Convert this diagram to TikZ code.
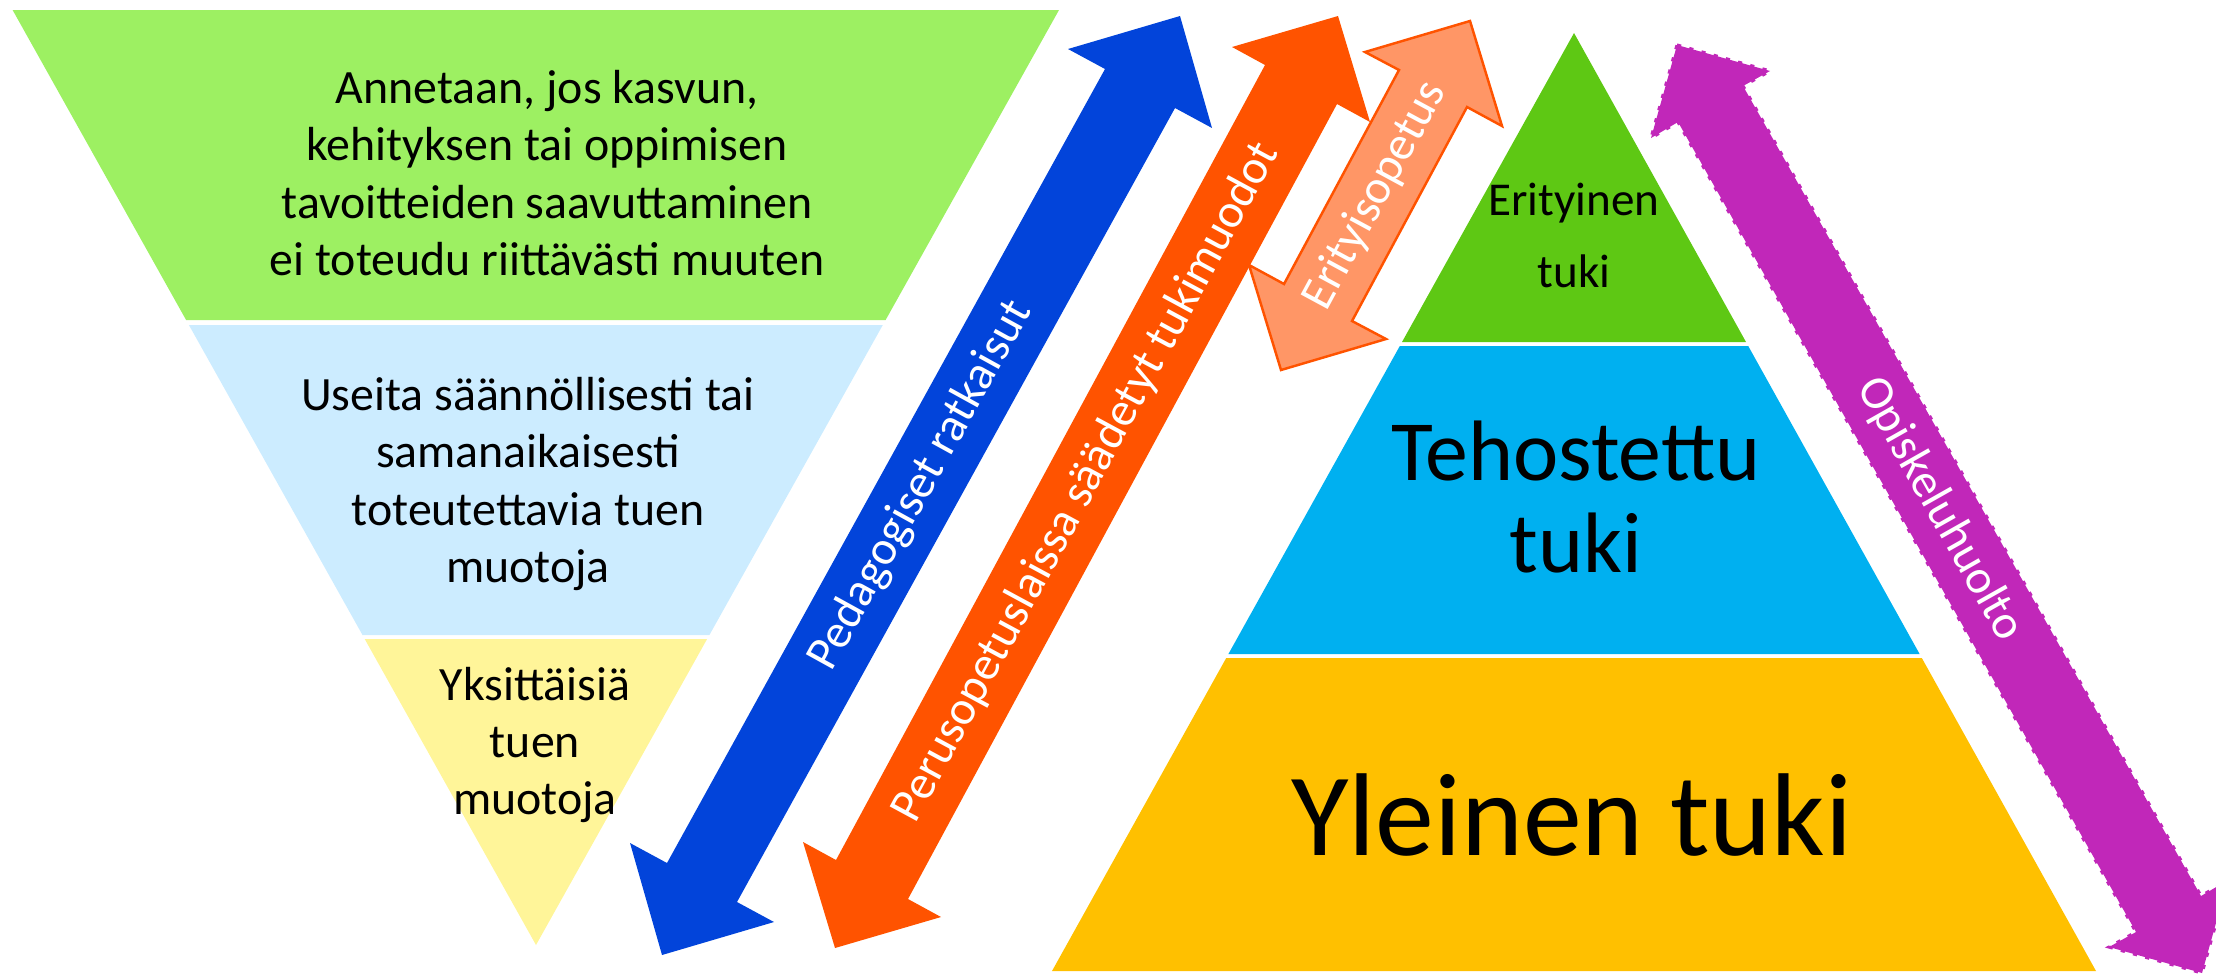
\documentclass[tikz,border=0pt]{standalone}
\usepackage{fontspec}
\setmainfont{Carlito}
\usepackage{tikz}
\usetikzlibrary{calc}

\definecolor{lgreen}{RGB}{157,240,98}
\definecolor{lblue}{RGB}{204,236,255}
\definecolor{lyellow}{RGB}{255,245,153}
\definecolor{rgreen}{RGB}{94,200,20}
\definecolor{rcyan}{RGB}{0,176,240}
\definecolor{rgold}{RGB}{255,192,0}
\definecolor{arrblue}{RGB}{2,68,218}
\definecolor{arrorange}{RGB}{255,83,0}
\definecolor{arrsalmon}{RGB}{255,150,102}
\definecolor{arrpurple}{RGB}{193,39,185}

\begin{document}
\begin{tikzpicture}[x=0.01cm,y=-0.01cm,
  level text/.style={align=center,text=black,inner sep=0pt,font=\fontsize{13.6}{16.3}\selectfont},
  arrow text/.style={text=white,inner sep=0pt,font=\fontsize{13.6}{16}\selectfont}]
  \useasboundingbox (0,0) rectangle (2216,975);

  % inverted pyramid
  \fill[lgreen] (12.6,10) -- (1059,10) -- (885.6,320) -- (186.1,320) -- cycle;
  \fill[lblue] (188.9,325) -- (882.8,325) -- (709.4,635) -- (362.5,635) -- cycle;
  \fill[lyellow] (364.7,639) -- (707.1,639) -- (536,945) -- cycle;

  \node[level text] (annetaan) at (547,173) {Annetaan, jos kasvun,\\kehityksen tai oppimisen\\tavoitteiden saavuttaminen\\ei toteudu riittävästi muuten};
  \node[level text] (useita) at (528,484) {Useita säännöllisesti tai\\samanaikaisesti\\toteutettavia tuen\\muotoja};
  \node[level text] (yksitt) at (535,745) {Yksittäisiä\\tuen\\muotoja};

  % pyramid
  \fill[rgreen] (1574,33) -- (1746,342) -- (1402,342) -- cycle;
  \fill[rcyan] (1399.8,346) -- (1748.2,346) -- (1919.6,654) -- (1228.4,654) -- cycle;
  \fill[rgold] (1226.2,658) -- (1921.8,658) -- (2096,971) -- (1052,971) -- cycle;

  \node[level text,font=\fontsize{13.4}{20.5}\selectfont] (erityinen) at (1574,235) {Erityinen\\tuki};
  \node[level text,font=\fontsize{24.4}{26.2}\selectfont] (tehostettu) at (1576,497) {Tehostettu\\tuki};
  \node[level text,font=\fontsize{33.5}{40}\selectfont] (yleinen) at (1572,815) {Yleinen tuki};

  % arrows
  \coordinate (pedTop) at (1180,16);
  \coordinate (pedBot) at (662,955);
  \fill[arrblue] (1180,16) -- (1212,128) -- (1175,108) -- (737,902) -- (774,922)
    -- (662,955) -- (630,843) -- (667,863) -- (1105,69) -- (1068,49) -- cycle;
  \node[arrow text,rotate=61.1] (ped) at ($(pedTop)!0.5!(pedBot)$) {Pedagogiset ratkaisut};

  \coordinate (perTop) at (1338,16);
  \coordinate (perBot) at (835,948);
  \fill[arrorange] (1338,16) -- (1370,122) -- (1337,104) -- (908,899) -- (941,917)
    -- (835,948) -- (803,842) -- (836,860) -- (1265,65) -- (1232,47) -- cycle;
  \node[arrow text,rotate=61.6] (per) at ($(perTop)!0.5!(perBot)$) {Perusopetuslaissa säädetyt tukimuodot};

  \coordinate (eriTop) at (1470,21);
  \coordinate (eriBot) at (1281,370);
  \filldraw[fill=arrsalmon,draw=arrorange,line width=0.7pt,line join=miter]
    (1470,21) -- (1502,126) -- (1467,107) -- (1352,321) -- (1386,339)
    -- (1281,370) -- (1249,265) -- (1284,284) -- (1399,70) -- (1365,52) -- cycle;
  \node[arrow text,rotate=61.6] (eri) at ($(eriTop)!0.5!(eriBot)$) {Erityisopetus};

  \coordinate (opiTop) at (1677,45);
  \coordinate (opiBot) at (2202,973);
  \fill[arrpurple] (1677,45) -- (1770,71) -- (1743,86) -- (2201,896) -- (2228,880)
    -- (2202,973) -- (2109,947) -- (2136,932) -- (1678,122) -- (1651,138) -- cycle;
  \draw[arrpurple,line width=0.9pt,dash pattern=on 1.2pt off 2.4pt]
    (1677,45) -- (1770,71) -- (1743,86) -- (2201,896) -- (2228,880)
    -- (2202,973) -- (2109,947) -- (2136,932) -- (1678,122) -- (1651,138) -- cycle;
  \node[arrow text,rotate=-60.5] (opi) at ($(opiTop)!0.5!(opiBot)$) {Opiskeluhuolto};
\end{tikzpicture}
\end{document}
